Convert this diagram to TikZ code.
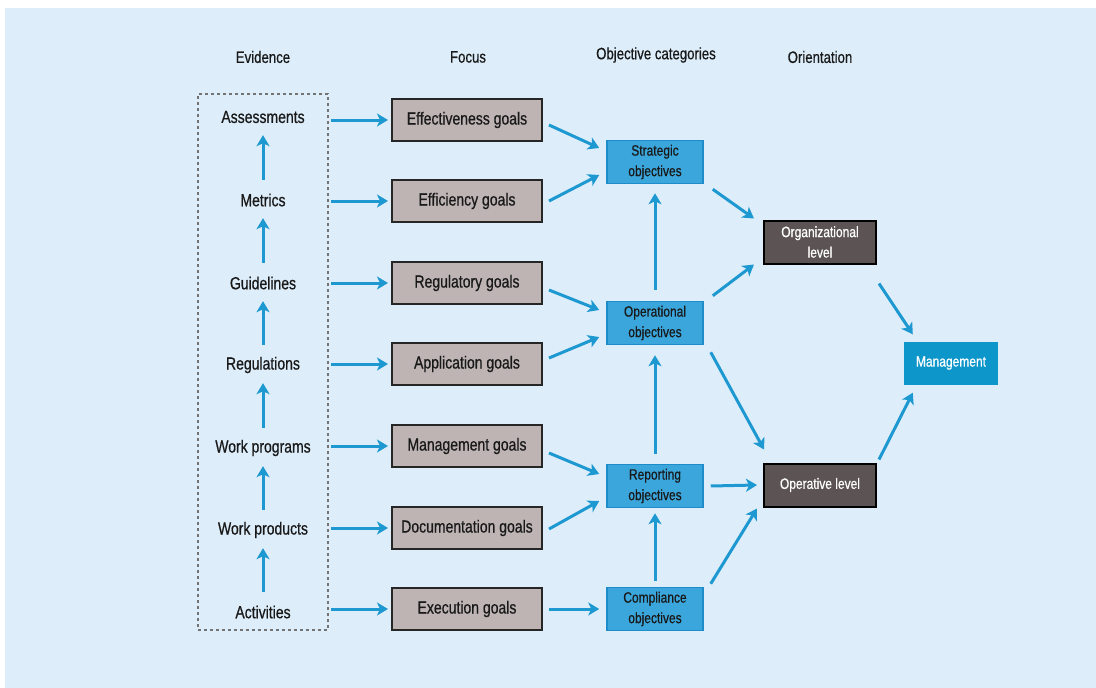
\documentclass[tikz,border=0pt]{standalone}
\usepackage{fontspec}
\setmainfont{Liberation Sans}[FakeStretch=0.8,FakeBold=0.6]
\usetikzlibrary{arrows.meta,calc}
\definecolor{bgblue}{RGB}{221,238,250}
\definecolor{arrblue}{RGB}{30,152,208}
\definecolor{goalfill}{RGB}{190,180,180}
\definecolor{objfill}{RGB}{58,166,220}
\definecolor{objdraw}{RGB}{30,140,200}
\definecolor{orgfill}{RGB}{92,84,84}
\definecolor{mgmtfill}{RGB}{12,150,202}
\definecolor{txt}{RGB}{25,25,25}
\begin{document}
\begin{tikzpicture}[x=1pt,y=-1pt,
  arr/.style={draw=arrblue,line width=3,-{Stealth[length=11,width=13,inset=3]}},
  header/.style={text=txt,font=\fontsize{16.5}{18}\selectfont,inner sep=0},
  evlabel/.style={text=txt,font=\fontsize{17.5}{19}\selectfont,inner sep=0,minimum height=20},
  goal/.style={draw=black!85,line width=2,fill=goalfill,text=txt,font=\fontsize{17.5}{19}\selectfont,minimum width=150,minimum height=42,inner sep=0},
  obj/.style={draw=objdraw,line width=1.5,fill=objfill,text=txt,font=\fontsize{15}{20.5}\selectfont,minimum width=96,minimum height=43,inner sep=0,align=center},
  orient/.style={draw=black,line width=2,fill=orgfill,text=white,font=\fontsize{15}{20.5}\selectfont,minimum width=112,minimum height=43,inner sep=0,align=center},
  mgmt/.style={fill=mgmtfill,text=white,font=\fontsize{15}{16.5}\selectfont,minimum width=94,minimum height=43,inner sep=0},
  evbox/.style={draw=black!55,dashed,line width=2.5,minimum width=130,minimum height=536,inner sep=0}
]
\useasboundingbox (0,0) rectangle (1096,688);
\fill[bgblue] (5,8) rectangle (1096,688);

% headers
\node[header] (hEv) at (263,57) {Evidence};
\node[header] (hFo) at (468,57) {Focus};
\node[header] (hOb) at (656,55) {Objective categories};
\node[header] (hOr) at (820,57) {Orientation};

% evidence
\node[evbox] (evbox) at (263,362) {};
\node[evlabel] (ev1) at (263,117) {Assessments};
\node[evlabel] (ev2) at (263,200) {Metrics};
\node[evlabel] (ev3) at (263,283) {Guidelines};
\node[evlabel] (ev4) at (263,365) {Regulations};
\node[evlabel] (ev5) at (263,448) {Work programs};
\node[evlabel] (ev6) at (263,530) {Work products};
\node[evlabel] (ev7) at (263,612) {Activities};
\foreach \a/\b in {ev2/ev1,ev3/ev2,ev4/ev3,ev5/ev4,ev6/ev5,ev7/ev6}
  \draw[arr,shorten <=10,shorten >=8] (\a.north) -- (\b.south);

% focus
\node[goal] (eff) at (467,120) {Effectiveness goals};
\node[goal] (effi) at (467,201) {Efficiency goals};
\node[goal] (reg) at (467,283) {Regulatory goals};
\node[goal] (app) at (467,364) {Application goals};
\node[goal] (man) at (467,446) {Management goals};
\node[goal] (doc) at (467,528) {Documentation goals};
\node[goal] (exe) at (467,609) {Execution goals};
\foreach \g in {eff,effi,reg,app,man,doc,exe}
  \draw[arr,shorten <=2,shorten >=3] (evbox.east |- \g.west) -- (\g.west);

% objectives
\node[obj] (strat) at (655,162) {Strategic\\objectives};
\node[obj] (oper) at (655,323) {Operational\\objectives};
\node[obj] (rep) at (655,486) {Reporting\\objectives};
\node[obj] (comp) at (655,609) {Compliance\\objectives};

\draw[arr] ($(eff.east)+(6,5)$) -- ($(strat.west)+(-7,-14)$);
\draw[arr] ($(effi.east)+(6,0)$) -- ($(strat.west)+(-7,13)$);
\draw[arr] ($(reg.east)+(6,7)$) -- ($(oper.west)+(-7,-13)$);
\draw[arr] ($(app.east)+(6,-6)$) -- ($(oper.west)+(-7,14)$);
\draw[arr] ($(man.east)+(6,7)$) -- ($(rep.west)+(-7,-12)$);
\draw[arr] ($(doc.east)+(6,1)$) -- ($(rep.west)+(-7,15)$);
\draw[arr] ($(exe.east)+(6,0)$) -- ($(comp.west)+(-7,0)$);

\draw[arr] ($(oper.north)+(0,-11)$) -- ($(strat.south)+(0,9)$);
\draw[arr] ($(rep.north)+(0,-10)$) -- ($(oper.south)+(0,10)$);
\draw[arr] ($(comp.north)+(0,-6)$) -- ($(rep.south)+(0,5)$);

% orientation
\node[orient] (org) at (820,242) {Organizational\\level};
\node[orient] (opv) at (820,485) {Operative level};
\node[mgmt] (mg) at (951,363) {Management};

\draw[arr] ($(strat.south east)+(9,5)$) -- ($(org.north west)+(-9,-1)$);
\draw[arr] ($(oper.north east)+(9,-5)$) -- ($(org.south west)+(-9,0)$);
\draw[arr] ($(oper.south east)+(7,7)$) -- ($(opv.north west)+(1,-13)$);
\draw[arr] ($(rep.east)+(7,0)$) -- ($(opv.west)+(-6,0)$);
\draw[arr] ($(comp.north east)+(7,-3)$) -- ($(opv.south west)+(-6,1)$);
\draw[arr] ($(org.south east)+(2,19)$) -- ($(mg.north west)+(9,-7)$);
\draw[arr] ($(opv.north east)+(2,-3)$) -- ($(mg.south west)+(9,8)$);
\end{tikzpicture}
\end{document}
